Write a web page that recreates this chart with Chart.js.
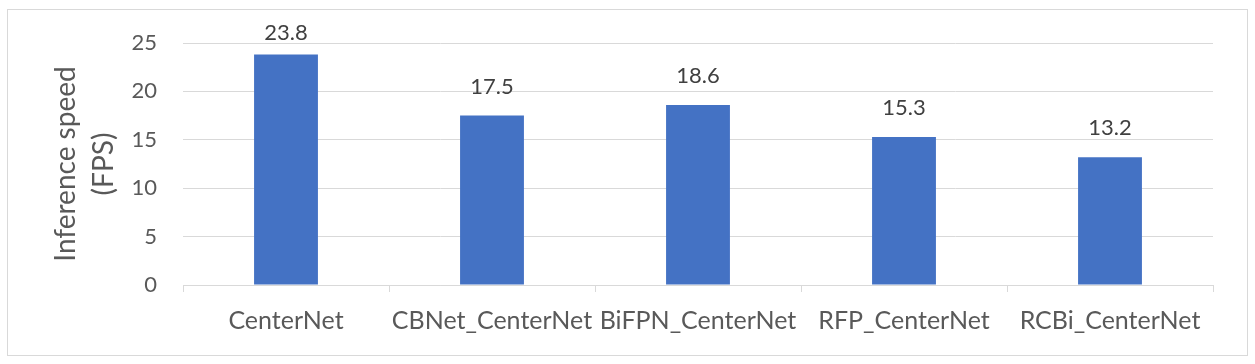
<!DOCTYPE html>
<html>
<head>
<meta charset="utf-8">
<script src="https://cdn.jsdelivr.net/npm/chart.js@4/dist/chart.umd.min.js"></script>
<style>
  html, body { margin: 0; padding: 0; background: #fff; }
  #wrap { width: 1255px; height: 364px; position: relative; }
</style>
</head>
<body>
<div id="wrap"><canvas id="myChart" width="1255" height="364"></canvas></div>
<script>
// data
const categories = ['CenterNet', 'CBNet_CenterNet', 'BiFPN_CenterNet', 'RFP_CenterNet', 'RCBi_CenterNet'];
const fps = [23.8, 17.5, 18.6, 15.3, 13.2];
const yTicks = [0, 5, 10, 15, 20, 25];

const FONT = 'Lato, "Open Sans", sans-serif';

// outer frame like the office chart box
const framePlugin = {
    id: 'frame',
    beforeDraw(chart) {
        const ctx = chart.ctx;
        ctx.save();
        ctx.fillStyle = '#fff';
        ctx.fillRect(0, 0, chart.width, chart.height);
        ctx.strokeStyle = '#d9d9d9';
        ctx.lineWidth = 1;
        ctx.strokeRect(7.5, 9.5, 1240, 346);
        ctx.restore();
    }
};

// value labels above the bars
const valueLabels = {
    id: 'valueLabels',
    afterDatasetsDraw(chart) {
        const ctx = chart.ctx;
        const meta = chart.getDatasetMeta(0);
        ctx.save();
        ctx.font = '22px ' + FONT;
        ctx.fillStyle = '#404040';
        ctx.textAlign = 'center';
        ctx.textBaseline = 'middle';
        meta.data.forEach((bar, i) => {
            const y = Math.max(bar.y - 29, chart.chartArea.top - 10);
            ctx.fillText(fps[i].toFixed(1), bar.x, y);
        });
        ctx.restore();
    }
};

const config = {
    type: 'bar',
    data: {
        labels: categories,
        datasets: [{
            data: fps,
            backgroundColor: '#4472C4',
            borderWidth: 0,
            categoryPercentage: 1,
            barPercentage: 0.31
        }]
    },
    options: {
        responsive: false,
        animation: false,
        layout: { padding: { top: 43, right: 42, left: 0, bottom: 0 } },
        plugins: {
            legend: { display: false },
            tooltip: { enabled: false }
        },
        scales: {
            x: {
                grid: {
                    offset: true,
                    drawOnChartArea: false,
                    drawTicks: true,
                    tickLength: 7,
                    color: '#d9d9d9'
                },
                border: { display: true, color: '#d9d9d9' },
                ticks: {
                    color: '#595959',
                    font: { family: FONT, size: 25 },
                    padding: 14,
                    maxRotation: 0,
                    autoSkip: false
                },
                afterFit(scale) { scale.height = 79; }
            },
            y: {
                min: 0,
                max: 25,
                afterBuildTicks(scale) { scale.ticks = yTicks.map(v => ({ value: v })); },
                grid: { color: '#d9d9d9', drawTicks: false },
                border: { display: false },
                ticks: {
                    color: '#595959',
                    font: { family: FONT, size: 22 },
                    padding: 26
                },
                title: {
                    display: true,
                    text: ['Inference speed', '(FPS)'],
                    color: '#595959',
                    font: { family: FONT, size: 28, lineHeight: 1.36 },
                    padding: { top: 47, bottom: 0 }
                },
                afterFit(scale) { scale.width = 183; }
            }
        }
    },
    plugins: [framePlugin, valueLabels]
};

new Chart(document.getElementById('myChart'), config);
</script>
</body>
</html>
